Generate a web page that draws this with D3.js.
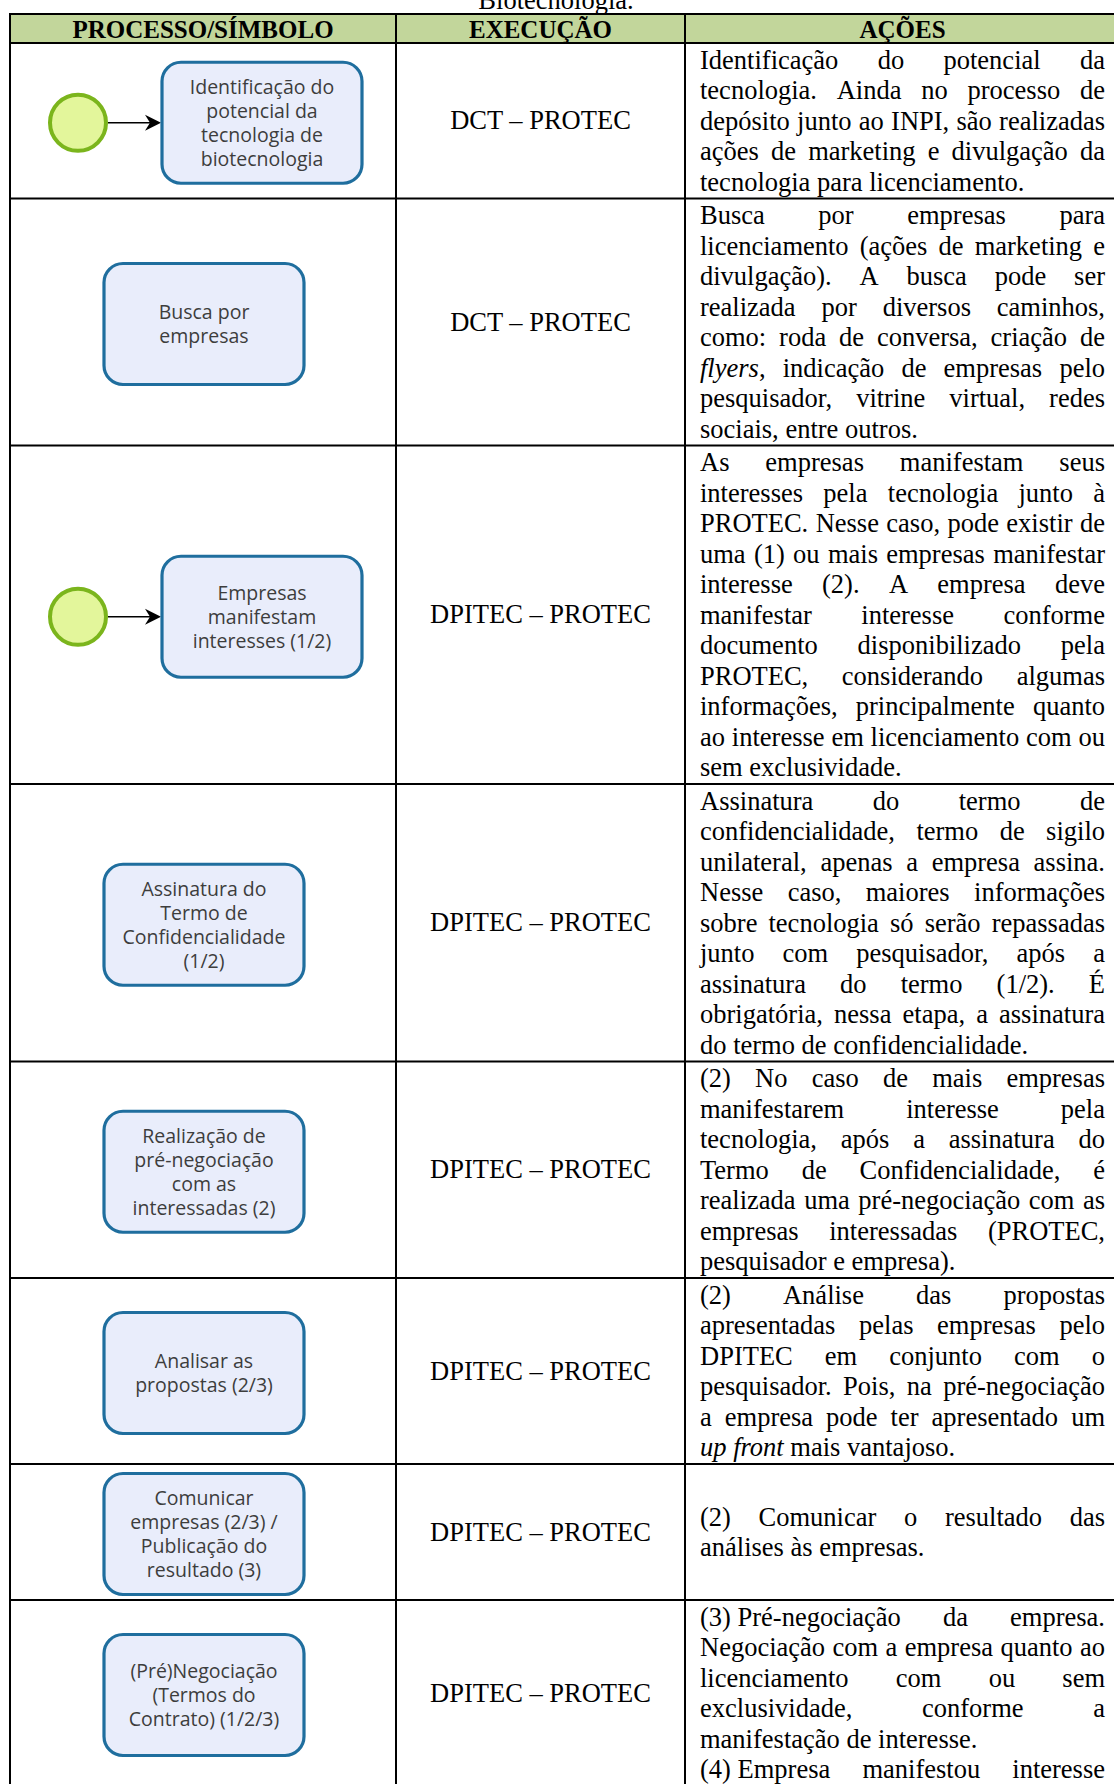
<!DOCTYPE html>
<html>
<head>
<meta charset="utf-8">
<script src="https://cdn.jsdelivr.net/npm/d3@7"></script>
<style>
html,body{margin:0;padding:0;background:#fff;}
svg{display:block;}
</style>
</head>
<body>
<svg id="chart" width="1114" height="1784"></svg>
<script>
// ---------------- DATA ----------------
const caption = "Biotecnologia.";
const headers = ["PROCESSO/SÍMBOLO", "EXECUÇÃO", "AÇÕES"];

const processLabels = [
  ["Identificação do", "potencial da", "tecnologia de", "biotecnologia"],
  ["Busca por", "empresas"],
  ["Empresas", "manifestam", "interesses (1/2)"],
  ["Assinatura do", "Termo de", "Confidencialidade", "(1/2)"],
  ["Realização de", "pré-negociação", "com as", "interessadas (2)"],
  ["Analisar as", "propostas (2/3)"],
  ["Comunicar", "empresas (2/3) /", "Publicação do", "resultado (3)"],
  ["(Pré)Negociação", "(Termos do", "Contrato) (1/2/3)"]
];

const startEvents = [true, false, true, false, false, false, false, false];

const execution = [
  "DCT – PROTEC", "DCT – PROTEC", "DPITEC – PROTEC", "DPITEC – PROTEC",
  "DPITEC – PROTEC", "DPITEC – PROTEC", "DPITEC – PROTEC", "DPITEC – PROTEC"
];

// each row: list of paragraphs, each paragraph: list of lines (as broken in the source)
const actions = [
  [["Identificação do potencial da",
    "tecnologia. Ainda no processo de",
    "depósito junto ao INPI, são realizadas",
    "ações de marketing e divulgação da",
    "tecnologia para licenciamento."]],
  [["Busca por empresas para",
    "licenciamento (ações de marketing e",
    "divulgação). A busca pode ser",
    "realizada por diversos caminhos,",
    "como: roda de conversa, criação de",
    "*flyers*, indicação de empresas pelo",
    "pesquisador, vitrine virtual, redes",
    "sociais, entre outros."]],
  [["As empresas manifestam seus",
    "interesses pela tecnologia junto à",
    "PROTEC. Nesse caso, pode existir de",
    "uma (1) ou mais empresas manifestar",
    "interesse (2). A empresa deve",
    "manifestar interesse conforme",
    "documento disponibilizado pela",
    "PROTEC, considerando algumas",
    "informações, principalmente quanto",
    "ao interesse em licenciamento com ou",
    "sem exclusividade."]],
  [["Assinatura do termo de",
    "confidencialidade, termo de sigilo",
    "unilateral, apenas a empresa assina.",
    "Nesse caso, maiores informações",
    "sobre tecnologia só serão repassadas",
    "junto com pesquisador, após a",
    "assinatura do termo (1/2). É",
    "obrigatória, nessa etapa, a assinatura",
    "do termo de confidencialidade."]],
  [["(2) No caso de mais empresas",
    "manifestarem interesse pela",
    "tecnologia, após a assinatura do",
    "Termo de Confidencialidade, é",
    "realizada uma pré-negociação com as",
    "empresas interessadas (PROTEC,",
    "pesquisador e empresa)."]],
  [["(2) Análise das propostas",
    "apresentadas pelas empresas pelo",
    "DPITEC em conjunto com o",
    "pesquisador. Pois, na pré-negociação",
    "a empresa pode ter apresentado um",
    "*up* *front* mais vantajoso."]],
  [["(2) Comunicar o resultado das",
    "análises às empresas."]],
  [["(3)\u00a0Pré-negociação da empresa.",
    "Negociação com a empresa quanto ao",
    "licenciamento com ou sem",
    "exclusividade, conforme a",
    "manifestação de interesse."],
   ["(4)\u00a0Empresa manifestou interesse"]]
];

// last paragraph of a row continues on the next page (so it stays justified)
const continuesOnNextPage = [false, false, false, false, false, false, false, true];

// ---------------- LAYOUT ----------------
const W = 1114, H = 1784;
const serif = "'Liberation Serif','Times New Roman',serif";
const sans = "'Open Sans','Noto Sans',sans-serif";
const fs = 26.5, lineH = 30.5, rowPad = 3, minRowH = 136;
const headerTop = 14, headerBottom = 43;
const tableLeft = 10, tableRight = 1120;
const textLeft = 700, textRight = 1105;
const borderW = 2;

const svg = d3.select("#chart").attr("viewBox", `0 0 ${W} ${H}`);

// column scale (left edges of columns)
const colKeys = ["proc", "exec", "acao", "end"];
const colX = d3.scaleOrdinal().domain(colKeys).range([tableLeft, 396, 685, tableRight]);
const colCenter = k => (colX(k) + colX(colKeys[colKeys.indexOf(k) + 1])) / 2;

// row heights from their text lines
const nLines = actions.map(r => d3.sum(r, p => p.length));
const rowH = nLines.map(n => Math.max(n * lineH + rowPad, minRowH));
const rowTops = [];
rowH.reduce((acc, h) => { rowTops.push(acc); return acc + h; }, headerBottom);
const rowY = d3.scaleOrdinal().domain(d3.range(actions.length)).range(rowTops);

// caption (cut at the top of the page)
svg.append("text")
  .attr("x", 556).attr("y", 9)
  .attr("text-anchor", "middle")
  .attr("font-family", serif).attr("font-size", fs)
  .text(caption);

// header background
svg.append("rect")
  .attr("x", tableLeft).attr("y", headerTop)
  .attr("width", tableRight - tableLeft).attr("height", headerBottom - headerTop)
  .attr("fill", "#c2d69b");

svg.selectAll("text.hdr").data(headers).join("text")
  .attr("class", "hdr")
  .attr("x", (d, i) => colCenter(colKeys[i]))
  .attr("y", headerTop + 24)
  .attr("text-anchor", "middle")
  .attr("font-family", serif).attr("font-size", 25).attr("font-weight", "bold")
  .text(d => d);

// justified line drawing
const spaceW = fs * 0.25;
function drawLine(parent, str, x0, width, baseline, justify) {
  const words = str.split(" ").filter(w => w.length);
  if (!words.length) return;
  const g = parent.append("g");
  const nodes = words.map(w => {
    const t = g.append("text")
      .attr("y", baseline)
      .attr("font-family", serif).attr("font-size", fs).attr("fill", "#000");
    w.split(/(\*[^*]+\*)/).filter(p => p.length).forEach(p => {
      if (p[0] === "*") t.append("tspan").attr("font-style", "italic").text(p.slice(1, -1));
      else t.append("tspan").text(p);
    });
    return t;
  });
  const widths = nodes.map(t => t.node().getComputedTextLength());
  const total = d3.sum(widths);
  let gap = (justify && words.length > 1) ? (width - total) / (words.length - 1) : spaceW;
  if (gap < spaceW * 0.6) gap = spaceW * 0.6;
  let x = x0;
  nodes.forEach((t, i) => { t.attr("x", x); x += widths[i] + gap; });
}

// rows
actions.forEach((paras, r) => {
  const top = rowY(r), h = rowH[r];
  const cy = top + h / 2;
  const g = svg.append("g").attr("class", "row");

  // actions text (vertically centred block)
  const n = nLines[r];
  let lineTop = top + (h - n * lineH) / 2;
  paras.forEach((lines, pi) => {
    const lastPara = pi === paras.length - 1;
    lines.forEach((ln, li) => {
      const isLast = li === lines.length - 1;
      const justify = !isLast || (lastPara && continuesOnNextPage[r]);
      drawLine(g, ln, textLeft, textRight - textLeft, lineTop + 24, justify);
      lineTop += lineH;
    });
  });

  // execution
  g.append("text")
    .attr("x", colCenter("exec")).attr("y", cy + 8.7)
    .attr("text-anchor", "middle")
    .attr("font-family", serif).attr("font-size", fs)
    .text(execution[r]);

  // process symbol
  const bw = 200, bh = 121;
  const bcx = startEvents[r] ? 262 : 204;
  const bcy = cy + 2;
  const bx = bcx - bw / 2;
  if (startEvents[r]) {
    const ccx = 78, cr = 28;
    g.append("circle")
      .attr("cx", ccx).attr("cy", bcy).attr("r", cr)
      .attr("fill", "#e3f69b").attr("stroke", "#7bb51c").attr("stroke-width", 4);
    g.append("line")
      .attr("x1", ccx + cr + 2).attr("y1", bcy).attr("x2", bx - 8).attr("y2", bcy)
      .attr("stroke", "#000").attr("stroke-width", 1.6);
    g.append("path")
      .attr("d", `M${bx - 1},${bcy} L${bx - 17},${bcy - 8} L${bx - 12},${bcy} L${bx - 17},${bcy + 8} Z`)
      .attr("fill", "#000");
  }
  g.append("rect")
    .attr("x", bx).attr("y", bcy - bh / 2)
    .attr("width", bw).attr("height", bh)
    .attr("rx", 19).attr("ry", 19)
    .attr("fill", "#e9edfb").attr("stroke", "#1f6e9e").attr("stroke-width", 3.2);
  const labs = processLabels[r];
  const lh2 = 24;
  g.selectAll("text.lab").data(labs).join("text")
    .attr("class", "lab")
    .attr("x", bcx)
    .attr("y", (d, i) => bcy - (labs.length - 1) * lh2 / 2 + i * lh2 + 6.8)
    .attr("text-anchor", "middle")
    .attr("font-family", sans).attr("font-size", 19.5).attr("fill", "#3d3d3d")
    .text(d => d);
});

// grid lines
const grid = svg.append("g").attr("stroke", "#000").attr("stroke-width", borderW);
const hLines = [headerTop, headerBottom].concat(rowTops.slice(1));
grid.selectAll("line.h").data(hLines).join("line")
  .attr("class", "h")
  .attr("x1", tableLeft - 1).attr("x2", tableRight)
  .attr("y1", d => d).attr("y2", d => d);
const tableBottom = rowTops[rowTops.length - 1] + rowH[rowH.length - 1];
grid.selectAll("line.v").data(["proc", "exec", "acao", "end"]).join("line")
  .attr("class", "v")
  .attr("x1", d => colX(d)).attr("x2", d => colX(d))
  .attr("y1", headerTop - 1).attr("y2", tableBottom + 10);
</script>
</body>
</html>
